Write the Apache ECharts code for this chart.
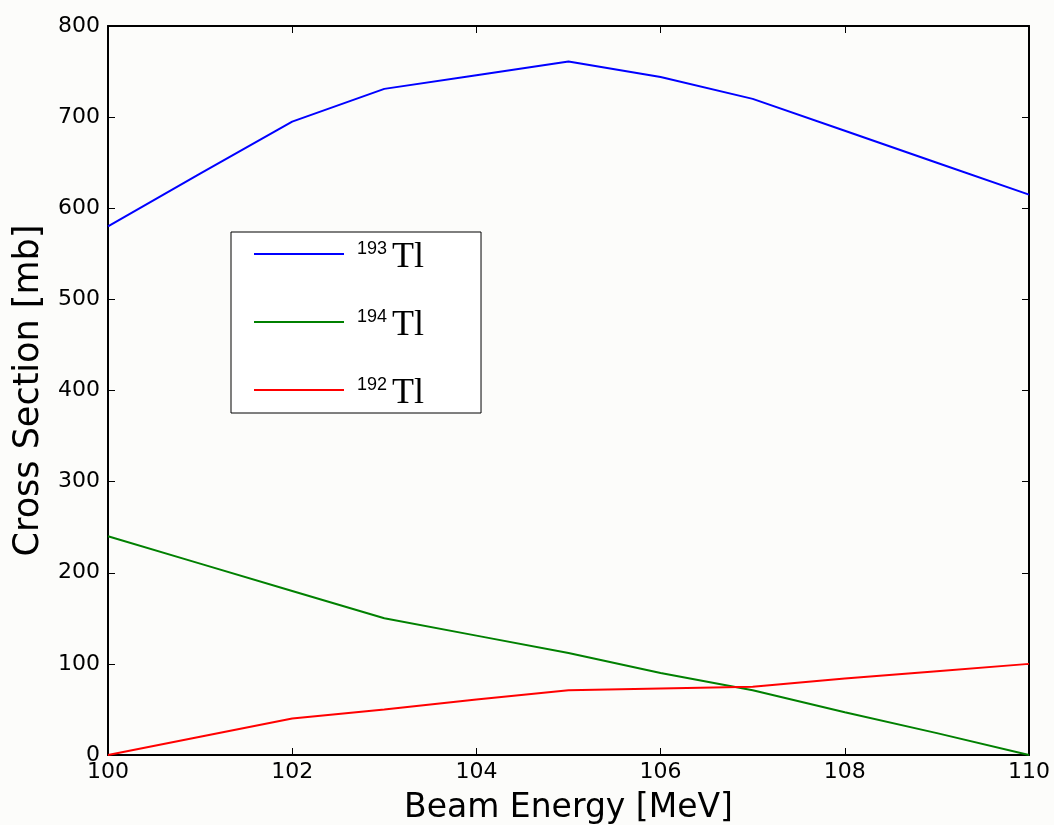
<!DOCTYPE html>
<html><head><meta charset="utf-8">
<script src="https://cdn.jsdelivr.net/npm/echarts@6/dist/echarts.min.js"></script>
<style>html,body{margin:0;padding:0;background:#fcfcfa;}#c{width:1054px;height:825px;}</style>
</head><body><div id="c"></div>
<script>
const energies = [100,101,102,103,104,105,106,107,108,109,110];
const tl193 = [580,638,695,731,746,761,744,720,685,650,615];
const tl194 = [240,210,180,150,131,112,90,71,47,24,0];
const tl192 = [0,20,40,50,61,71,73,75,84,92,100];
const seriesNames = ['193', '194', '192'];
const seriesColors = ['#0000ff', '#008000', '#ff0000'];
const xTicks = [100,102,104,106,108,110];
const yTicks = [0,100,200,300,400,500,600,700,800];

const font = 'DejaVu Sans';
const chart = echarts.init(document.getElementById('c'));
const pairs = a => energies.map((e,i)=>[e,a[i]]);
const dataSets = [tl193, tl194, tl192];
const axisCommon = {
  axisLine:{show:true,onZero:false,lineStyle:{color:'#000',width:2}},
  axisTick:{show:true,inside:true,length:7,lineStyle:{color:'#000',width:1}},
  splitLine:{show:false}
};
chart.setOption({
  backgroundColor:'#fcfcfa',
  animation:false,
  grid:{left:108,right:25,top:26,bottom:70,outerBoundsMode:'none',containLabel:false},
  legend:{
    left:231, top:232, orient:'vertical',
    backgroundColor:'#fff', borderColor:'#000', borderWidth:1, borderRadius:0,
    padding:[0,57,1,23], itemGap:24, itemWidth:90, itemHeight:2, icon:'rect',
    data:seriesNames,
    formatter: n => '{s|' + n + '}{t|Tl}',
    textStyle:{
      rich:{
        s:{fontFamily:'Liberation Sans',fontSize:18,color:'#000',verticalAlign:'top',lineHeight:18,padding:[8,0,0,8]},
        t:{fontFamily:'Liberation Serif',fontSize:36,color:'#000',verticalAlign:'bottom',lineHeight:44,padding:[0,0,0,5]}
      }
    }
  },
  xAxis:[
    Object.assign({type:'value',min:100,max:110,interval:2,position:'bottom',
      name:'Beam Energy [MeV]',nameLocation:'middle',nameGap:37,
      nameTextStyle:{fontFamily:font,fontSize:33,color:'#000'},
      axisLabel:{fontFamily:font,fontSize:22,color:'#000',margin:6}},axisCommon),
    Object.assign({type:'value',min:100,max:110,interval:2,position:'top',axisLabel:{show:false}},axisCommon)
  ],
  yAxis:[
    Object.assign({type:'value',min:0,max:800,interval:100,position:'left',
      name:'Cross Section [mb]',nameLocation:'middle',nameGap:62,
      nameTextStyle:{fontFamily:font,fontSize:35,color:'#000'},
      axisLabel:{fontFamily:font,fontSize:22,color:'#000',margin:8}},axisCommon),
    Object.assign({type:'value',min:0,max:800,interval:100,position:'right',axisLabel:{show:false}},axisCommon)
  ],
  series: seriesNames.map((n,i)=>({
    name:n, type:'line', data:pairs(dataSets[i]), showSymbol:false, symbol:'none',
    lineStyle:{color:seriesColors[i],width:2}, itemStyle:{color:seriesColors[i]}
  }))
});
</script></body></html>
